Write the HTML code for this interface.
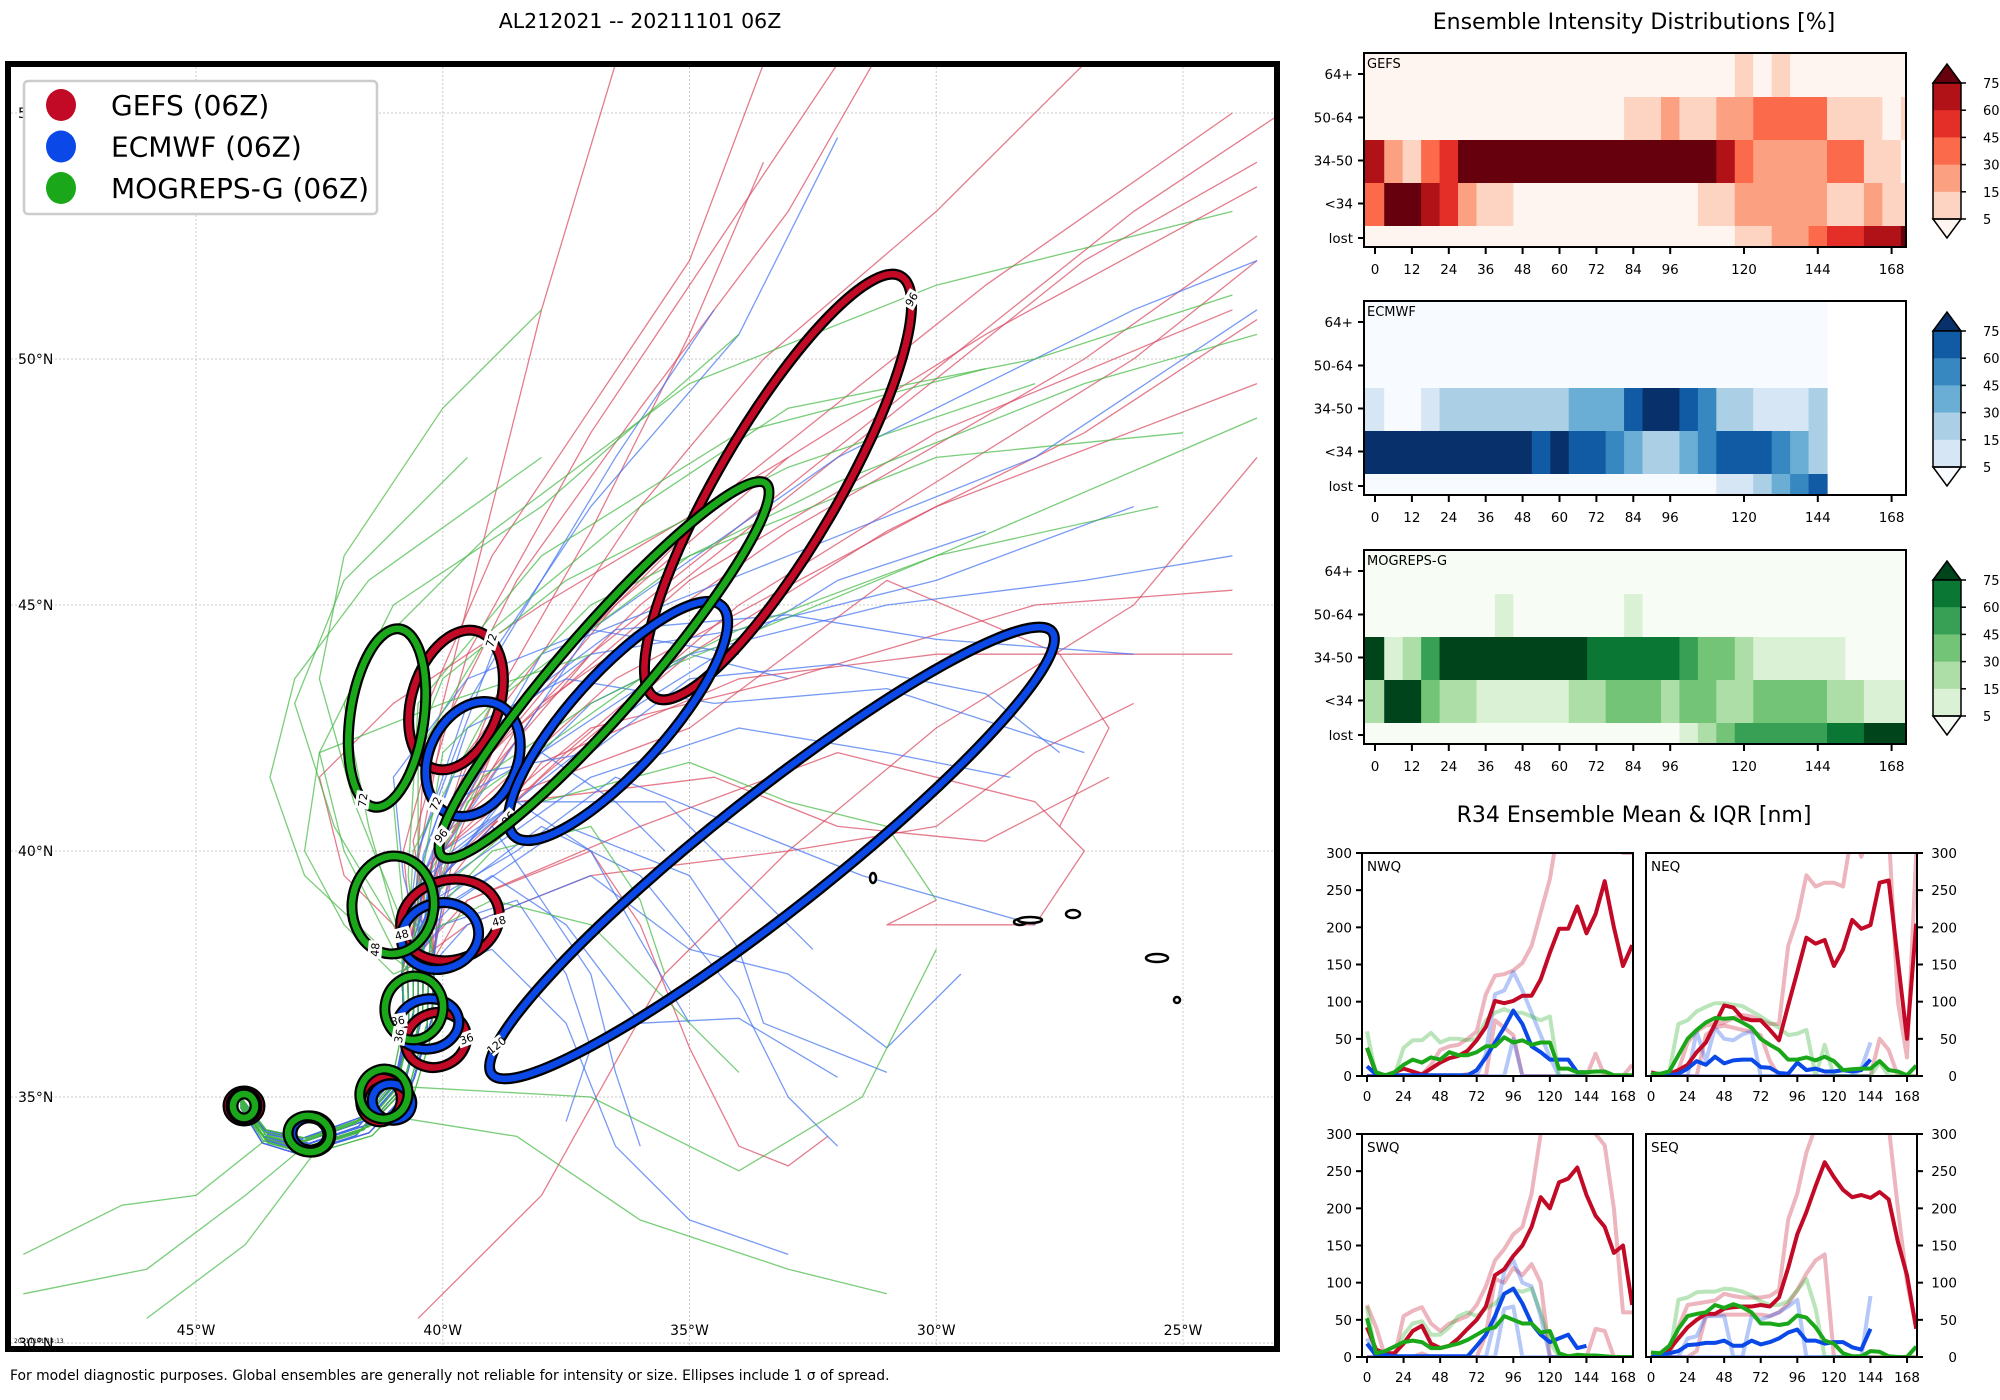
<!DOCTYPE html>
<html><head><meta charset="utf-8">
<style>
html,body{margin:0;padding:0;background:#fff;}
svg{display:block;font-family:"DejaVu Sans","Liberation Sans",sans-serif;}
</style></head>
<body>
<svg id="root" xmlns="http://www.w3.org/2000/svg" width="2000" height="1400" viewBox="0 0 2000 1400">
<defs>
<clipPath id="mapclip"><rect x="11" y="67" width="1263" height="1279"/></clipPath>
</defs>
<rect x="0" y="0" width="2000" height="1400" fill="#fff"/>
<text x="640" y="28" font-size="20.5" text-anchor="middle">AL212021 -- 20211101 06Z</text>
<text x="1634" y="29" font-size="22" text-anchor="middle">Ensemble Intensity Distributions [%]</text>
<text x="1634" y="822" font-size="22" text-anchor="middle">R34 Ensemble Mean &amp; IQR [nm]</text>
<text x="10" y="1380" font-size="13.9">For model diagnostic purposes. Global ensembles are generally not reliable for intensity or size. Ellipses include 1 σ of spread.</text>
<g id="map"></g>
<g id="heat"></g>
<g id="r34"></g>
</svg>
<script>
const NS='http://www.w3.org/2000/svg';
function mk(tag,attrs,parent){const e=document.createElementNS(NS,tag);for(const k in attrs)e.setAttribute(k,attrs[k]);parent.appendChild(e);return e;}

/* ---------------- MAP DATA ---------------- */
const trackStart=[[-44.1,34.9],[-43.6,34.2],[-42.8,34.0],[-41.6,34.4],[-40.8,35.3],[-40.5,36.5],[-40.5,37.8]];
const gefsTracks=[
[[-40.3,39.5],[-39.5,41.5],[-37.5,44],[-34,47.5],[-29,51.5],[-24,55]],
[[-40,39.5],[-39,42],[-36,45],[-31,49],[-26,53],[-23,55]],
[[-40.5,39.8],[-40,42.5],[-38.5,45.5],[-36,49],[-33,53],[-31,56.5]],
[[-40,40],[-38.5,42.5],[-35,45.5],[-30,48.5],[-24,51]],
[[-40.2,40],[-39,43],[-37,46.5],[-35,50.5],[-33.5,54]],
[[-39.8,39.5],[-38,41.8],[-34,43.5],[-30,44],[-24,44]],
[[-40,40],[-37,42.5],[-33,43.5],[-28,45],[-24,45.3]],
[[-39.5,39],[-36,40.5],[-32,42],[-28,41],[-27,40],[-28,38.5],[-31,38.5],[-30,39]],
[[-40.5,39],[-38.5,41],[-34.5,41.5],[-32,40.5],[-29,40.2],[-26.5,41.5]],
[[-40.8,40],[-40,43],[-39,47],[-38,51],[-36.5,56]],
[[-40,40.5],[-37,44],[-32,48],[-27,52],[-23.5,54]],
[[-40,40.3],[-36.5,43.5],[-30,47],[-23.5,49.5]],
[[-39.5,39],[-37,40],[-36,38.5],[-35,36],[-34,34],[-33,33.6],[-32.2,34.2]],
[[-40.6,40.2],[-39.5,44],[-37,48.5],[-34,53],[-32,56]],
[[-40.2,39.8],[-38,43],[-33,46.5],[-27,50],[-23.5,52.5]],
[[-40.4,39.6],[-39,41],[-35,42.5],[-31,45.5],[-27.5,44],[-26.5,42.5],[-27.5,40.5]],
[[-40.2,39.8],[-39,42],[-36.5,45],[-33,48],[-29,50.5],[-23.5,53.5]],
[[-40,39.5],[-38,41.5],[-35,44],[-31,46.5],[-27,48.5],[-23.5,50.8]],
[[-40.5,40],[-40.3,43],[-39,46],[-37,49],[-35,52],[-33.5,56]],
[[-39.8,39.8],[-37.5,42],[-34,45],[-30,47.5],[-26,50],[-23.5,52]],
[[-40.3,39.5],[-39.5,42],[-38,44],[-36,47],[-33.5,50],[-30,53],[-27,56]],
[[-39.5,38.5],[-37,39.5],[-33,40],[-30,40.5],[-28,42],[-26,43]],
[[-41,38.5],[-42,39.5],[-42.5,41.5],[-41,43],[-38,45],[-33,48]]
];
const gefsLong=[[-40.5,30.5],[-38,33],[-35.5,37.5],[-33,40],[-30,42.5],[-26,45],[-23.5,48]];
const ecmwfTracks=[
[[-40,39.5],[-38,42],[-35,44],[-31,45],[-27,45.5],[-24,46]],
[[-40.2,39.8],[-38.5,43],[-36.5,44.5],[-33,44.8],[-30,44.3],[-26,44]],
[[-39.8,39.5],[-37,41.5],[-34,42.5],[-31,42],[-28.5,41.5]],
[[-39.5,38.5],[-37,39.5],[-35,38],[-33,37.5],[-31,36],[-29.5,37.5]],
[[-40,39],[-38,40.5],[-36,39.5],[-34,37],[-33,35],[-32,34]],
[[-40.5,40],[-39,44],[-37,47],[-34,50.5],[-32,54.5]],
[[-40,40],[-37,44.5],[-32,48],[-26,51],[-23.5,52]],
[[-40,39.5],[-39,40.5],[-38,39],[-37,37.5],[-36.5,35.5],[-36,34]],
[[-39.8,40],[-36,43],[-32,45.5],[-29,46.5]],
[[-40.3,39.5],[-38.5,41],[-35.5,41],[-33.5,39],[-32.5,38]],
[[-39,38],[-37.5,36.5],[-36.5,34],[-35,32.5],[-33,31.8]],
[[-40,40.5],[-38,44],[-33,46],[-28,48],[-23.5,51]],
[[-40.5,39.5],[-39.5,42.5],[-37.5,43.5],[-34.5,43],[-31,43.3],[-27,42]],
[[-40.2,39],[-38.5,40],[-36.5,41.5],[-34,40.5],[-31.5,39.5],[-28,38.5]],
[[-40.1,38.8],[-39,39.5],[-37.5,38.5],[-36,36.5],[-34,36.6],[-32,35.4]],
[[-40.4,39.9],[-39.8,41.5],[-37,42],[-35,43.5],[-32,43.8],[-29,43.2],[-27.5,42]],
[[-40.5,38.5],[-40,40],[-38.5,41],[-37,40],[-36,38.2],[-35,36.5]],
[[-40.2,39.2],[-38.5,41.5],[-37,43],[-35,44],[-33,43.5]],
[[-40.6,39],[-39.8,41],[-38,42],[-36.5,41],[-35.5,40]],
[[-40,38.5],[-38.5,39],[-37.5,37.5],[-37,36],[-37.5,34.5]],
[[-40.3,39.7],[-39,42.5],[-37,44],[-34,44.5],[-30,45.5],[-26,47]],
[[-39.7,39],[-37.5,40.5],[-35,39.5],[-34,38],[-33.5,36.5],[-31,35.5]],
[[-40.5,40],[-39.5,43],[-38,45.5],[-36.5,48],[-34.5,51]],
[[-40.8,39.5],[-41,41.5],[-39.5,43.5],[-37,44.5],[-34,44]]
];
const mogrepsTracks=[
[[-40.8,38],[-41.5,40.5],[-42,43],[-41,45],[-38,47],[-34,50.5]],
[[-41,38],[-42,40],[-42.5,42],[-41.5,44],[-39,46.5],[-35,49.5],[-30,51.5],[-24,53]],
[[-40.5,39],[-40,42],[-37,45],[-32,47.5],[-27,49.5],[-23.5,50.5]],
[[-40.5,39],[-40.5,42],[-39,44.5],[-36,47],[-33,49],[-28,50],[-24,51.3]],
[[-40.6,40],[-39,43],[-35,46],[-30,48],[-25,48.5]],
[[-40.8,38.5],[-41.8,41],[-42.5,43.5],[-42,46],[-40,49],[-38,51]],
[[-40.3,39],[-38,41],[-35,41.8],[-33,41],[-31,40.5],[-30,39]],
[[-40.2,39],[-39.5,41],[-36,43.5],[-30,46],[-25.5,47]],
[[-41,38.5],[-42.2,40.5],[-43,43],[-42,45.5],[-39.5,48]],
[[-40.7,39.5],[-40.5,43],[-38,46],[-34,48.5],[-29,49.8]],
[[-40.4,38.5],[-39,40],[-37,40.5],[-36,39],[-35.5,37.5]],
[[-41.2,38],[-42.8,39.5],[-43.5,41.5],[-43,43.5],[-41.5,45.5],[-38,48]],
[[-40.8,38.8],[-41,41],[-40,43.5],[-37.5,45.5],[-33,47.8],[-28,49.5]],
[[-40.4,39.3],[-39.2,41.5],[-37,43],[-34,44.5],[-30,46],[-23.5,48.8]],
[[-41,37.5],[-42,38.5],[-42.8,40],[-42.5,42],[-40,43],[-37,44]],
[[-40.6,38.2],[-39,39],[-37,38.5],[-35.5,37],[-34,35.5]]
];
const mogrepsSouth=[
[[-42.8,34.0],[-44,33],[-46,31.5],[-48.5,31]],
[[-43.5,34.2],[-45,33],[-46.5,32.8],[-48.5,31.8]],
[[-42.5,34],[-44,32],[-46,30.5]],
[[-41,34.6],[-38.5,34.2],[-36,32.5],[-33,31.5],[-31,31]],
[[-40.6,35.2],[-37,35],[-34,33.5],[-31.5,35],[-30,38]]
];
/* ellipses: [cx, cy, semi-major, semi-minor, rotation deg, model, label] in pixel units */
const ellipses=[
[244,1106,16,15,0,'red','0'],[244,1106,13,13,0,'blue',''],[244,1106,11,12,0,'green','0'],
[311,1134,18,20,-80,'red','12'],[310,1134,16,18,-80,'blue','12'],[309,1134,18,21,-80,'green','12'],
[381,1100,22,20,-70,'red','24'],[392,1102,18,20,-70,'blue','24'],[384,1094,25,24,-70,'green','24'],
[436,1040,31,27,-20,'red','36'],[428,1024,31,25,-10,'blue','36'],[414,1008,32,29,-80,'green','36'],
[450,920,50,40,-15,'red','48'],[440,936,39,33,-15,'blue','48'],[393,905,49,41,-85,'green','48'],
[456,700,72,44,-72,'red','72'],[473,759,60,44,-65,'blue','72'],[387,718,90,37,-82,'green','72'],
[778,487,244,60,-59.7,'red','96'],[618,721,155,48,-48,'blue','96'],[604,670,247,42,-49,'green','96'],
[772,853,357,58,-38.3,'blue','120']
];
const islands=[[873,878,3,5],[1020,922,6,3],[1030,920,12,3],[1073,914,7,4],[1157,958,11,4],[1177,1000,3,3]];
const modelColors={red:'#c20a26',blue:'#0a48e8',green:'#1aa81a'};
const thinColors={red:'#d8455c',blue:'#3d6ff0',green:'#42b842'};

function mx(lon){return 196+(lon+45)*49.35;}
function my(lat){return 851-(lat-40)*49.2;}

const map=document.getElementById('map');
const lonTicks=[-45,-40,-35,-30,-25];
const latTicks=[30,35,40,45,50,55];
lonTicks.forEach(l=>{
  const g=mk('line',{x1:mx(l),x2:mx(l),y1:67,y2:1346,stroke:'#c8c8c8','stroke-width':1,'stroke-dasharray':'2,2'},map);
  
  
  const t=mk('text',{x:mx(l),y:1335,'font-size':14,'text-anchor':'middle'},map);
  t.textContent=(-l)+'°W';
  
  
});
latTicks.forEach(l=>{
  const g=mk('line',{x1:11,x2:1274,y1:my(l),y2:my(l),stroke:'#c8c8c8','stroke-width':1,'stroke-dasharray':'2,2'},map);
  
  
  const t=mk('text',{x:18,y:my(l)+5,'font-size':14},map);
  t.textContent=l+'°N';
  
  
});
const tg=mk('g',{'clip-path':'url(#mapclip)'},map);


function track(pts,color){
  const d=pts.map((p,i)=>(i?'L':'M')+mx(p[0]).toFixed(1)+','+my(p[1]).toFixed(1)).join('');
  const p=mk('path',{d:d,fill:'none',stroke:thinColors[color],'stroke-width':1.3,'stroke-opacity':0.7,'stroke-linejoin':'round'},tg);
  
  
}
function jitter(i){return [(i%7-3)*0.11,((i*3)%7-3)*0.09];}
function spreadStart(j,sgn){const n=trackStart.length;return trackStart.map((p,k)=>{const f=k/(n-1);return [p[0]+j[0]*f*sgn,p[1]+j[1]*(0.4+0.6*f)];});}
gefsTracks.forEach((t,i)=>track(spreadStart(jitter(i),1).concat(t),'red'));
track(gefsLong,'red');
ecmwfTracks.forEach((t,i)=>track(spreadStart(jitter(i+2),1).concat(t),'blue'));
mogrepsTracks.forEach((t,i)=>track(spreadStart(jitter(i+1),-1).concat(t),'green'));
mogrepsSouth.forEach(t=>track(t,'green'));
islands.forEach(s=>{
  const e=mk('ellipse',{cx:s[0],cy:s[1],rx:s[2],ry:s[3],fill:'#fff',stroke:'#000','stroke-width':2.5},tg);
  
  
});
ellipses.forEach(el=>{
  const [cx,cy,a,b,rot,m,lab]=el;
  const g=mk('g',{transform:`translate(${cx},${cy}) rotate(${rot})`},tg);
  
  
  mk('ellipse',{cx:0,cy:0,rx:a,ry:b,fill:'none',stroke:'#000','stroke-width':11},g);
  mk('ellipse',{cx:0,cy:0,rx:a,ry:b,fill:'none',stroke:modelColors[m],'stroke-width':6.5},g);
  if(lab&&a>25){
    const ang=(m==='green'?200:m==='blue'?200:20)*Math.PI/180;
    const lx=a*Math.cos(ang), ly=b*Math.sin(ang);
    const r=mk('rect',{x:lx-9,y:ly-7,width:18,height:14,fill:'#fff'},g);
    
    
    const t=mk('text',{x:lx,y:ly+4,'font-size':11,'text-anchor':'middle'},g);
    t.textContent=lab;
    
    
  }
});
const fr=mk('rect',{x:8,y:64,width:1269,height:1285,fill:'none',stroke:'#000','stroke-width':6},map);


const stamp=mk('text',{x:14,y:1343,'font-size':6},map);
stamp.textContent='20211101 14:13';


const lg=mk('g',{},map);


const lb=mk('rect',{x:24,y:81,width:353,height:133,rx:4,fill:'#fff',stroke:'#ccc','stroke-width':2.5},lg);


const legendLabels=['GEFS (06Z)','ECMWF (06Z)','MOGREPS-G (06Z)'];
const legendColors=['#c20a26','#0a48e8','#1aa81a'];
legendLabels.forEach((s,i)=>{
  const y=105+i*41.5;
  const c=mk('ellipse',{cx:61,cy:y,rx:15,ry:16,fill:legendColors[i]},lg);
  
  
  const t=mk('text',{x:111,y:y+10,'font-size':28},lg);
  t.textContent=s;
  
  
});

/* ---------------- HEATMAP DATA ---------------- */
const heatHours=[0,6,12,18,24,30,36,42,48,54,60,66,72,78,84,90,96,102,108,114,120,126,132,138,144,150,156,162,168,174];
const heatRows=['64+','50-64','34-50','<34','lost'];
const heatTickHours=[0,12,24,36,48,60,72,84,96,120,144,168];
const cbLevels=[5,15,30,45,60,75];
const gefs64=[2,2,2,2,2,2,2,2,2,2,2,2,2,2,2,2,2,2,2,2,10,2,10,2,2,2,2,2,2,2];
const gefs50=[2,2,2,2,2,2,2,2,2,2,2,2,2,2,10,10,22,10,10,22,22,38,38,38,38,10,10,10,2,10];
const gefs34=[68,22,10,38,52,85,85,85,85,85,85,85,85,85,85,85,85,85,85,68,38,22,22,22,22,38,38,10,10,2];
const gefsLt=[38,85,85,68,52,22,10,10,2,2,2,2,2,2,2,2,2,2,10,10,22,22,22,22,22,10,10,22,10,10];
const gefsLost=[2,2,2,2,2,2,2,2,2,2,2,2,2,2,2,2,2,2,2,2,10,10,22,22,38,52,52,68,68,85];
const ecm64=[2,2,2,2,2,2,2,2,2,2,2,2,2,2,2,2,2,2,2,2,2,2,2,2,2];
const ecm50=[2,2,2,2,2,2,2,2,2,2,2,2,2,2,2,2,2,2,2,2,2,2,2,2,2];
const ecm34=[10,2,2,10,22,22,22,22,22,22,22,38,38,38,68,85,85,68,52,22,22,10,10,10,22];
const ecmLt=[85,85,85,85,85,85,85,85,85,68,85,68,68,52,38,22,22,38,52,68,68,68,52,38,22];
const ecmLost=[2,2,2,2,2,2,2,2,2,2,2,2,2,2,2,2,2,2,2,10,10,22,38,52,68];
const mog64=[2,2,2,2,2,2,2,2,2,2,2,2,2,2,2,2,2,2,2,2,2,2,2,2,2,2,2,2,2,2];
const mog50=[2,2,2,2,2,2,2,10,2,2,2,2,2,2,10,2,2,2,2,2,2,2,2,2,2,2,2,2,2,2];
const mog34=[85,10,22,52,85,85,85,85,85,85,85,85,68,68,68,68,68,52,38,38,22,10,10,10,10,10,2,2,2,2];
const mogLt=[22,85,85,38,22,22,10,10,10,10,10,22,22,38,38,38,22,38,38,22,22,38,38,38,38,22,22,10,10,10];
const mogLost=[2,2,2,2,2,2,2,2,2,2,2,2,2,2,2,2,2,10,22,38,52,52,52,52,52,68,68,85,85,85];
const reds=['#fff5f0','#fdd4c2','#fca082','#fb6b4b','#e32f27','#b11218','#67000d'];
const blues=['#f7fbff','#d6e6f4','#abd0e6','#6aaed6','#3787c0','#105ba4','#08306b'];
const greens=['#f7fcf5','#dbf1d6','#aedea7','#73c476','#37a055','#0b7734','#00441b'];
function lvl(v){let k=0;cbLevels.forEach(c=>{if(v>=c)k++;});return k;}

const heat=document.getElementById('heat');
const HL=1364,HR=1906;
function hx(h){return 1375+h*3.075;}
const rowEdges=[0,44,87,130,173,194];
function heatmap(top,name,label,rows,pal){
  const g=mk('g',{},heat);
  
  
  const bg=mk('rect',{x:HL,y:top,width:HR-HL,height:194,fill:'#fff'},g);
  
  
  rows.forEach((arr,r)=>{
    arr.forEach((v,i)=>{
      const h=heatHours[i];
      const x0=Math.max(HL,i===0?HL:hx(h-3)), x1=Math.min(HR,hx(h+3));
      if(x1<=x0)return;
      const c=mk('rect',{x:x0,y:top+rowEdges[r],width:x1-x0+0.6,height:rowEdges[r+1]-rowEdges[r]+0.6,fill:pal[lvl(v)]},g);
      
      
    });
  });
  const fr=mk('rect',{x:HL,y:top,width:HR-HL,height:194,fill:'none',stroke:'#000','stroke-width':2},g);
  
  
  const lt=mk('text',{x:HL+3,y:top+15,'font-size':13},g);
  lt.textContent=label;
  
  
  heatRows.forEach((s,r)=>{
    const yc=top+(r<4?(rowEdges[r]+rowEdges[r+1])/2-1:185);
    mk('line',{x1:HL,x2:HL-6,y1:yc,y2:yc,stroke:'#000','stroke-width':2},g);
    const t=mk('text',{x:HL-11,y:yc+5,'font-size':13.5,'text-anchor':'end'},g);
    t.textContent=s;
    
    
  });
  heatTickHours.forEach(h=>{
    mk('line',{x1:hx(h),x2:hx(h),y1:top+194,y2:top+201,stroke:'#000','stroke-width':2},g);
    const t=mk('text',{x:hx(h),y:top+221,'font-size':13.5,'text-anchor':'middle'},g);
    t.textContent=h;
    
    
  });
  const cb=mk('g',{},g);
  
  
  const cx0=1933,cx1=1961,cyTop=top+30,band=27.2,cyBot=cyTop+band*5;
  mk('polygon',{points:`${cx0},${cyTop} ${(cx0+cx1)/2},${top+11} ${cx1},${cyTop}`,fill:pal[6],stroke:'#000','stroke-width':1.5},cb);
  for(let k=0;k<5;k++){
    mk('rect',{x:cx0,y:cyTop+k*band,width:cx1-cx0,height:band+0.5,fill:pal[5-k]},cb);
  }
  mk('polygon',{points:`${cx0},${cyBot} ${(cx0+cx1)/2},${top+185} ${cx1},${cyBot}`,fill:pal[0],stroke:'#000','stroke-width':1.5},cb);
  mk('rect',{x:cx0,y:cyTop,width:cx1-cx0,height:band*5,fill:'none',stroke:'#000','stroke-width':1.5},cb);
  cbLevels.slice().reverse().forEach((v,k)=>{
    const y=cyTop+k*band;
    mk('line',{x1:cx1,x2:cx1+5,y1:y,y2:y,stroke:'#000','stroke-width':1.5},cb);
    const t=mk('text',{x:cx1+22,y:y+5,'font-size':13},cb);
    t.textContent=v;
    
    
  });
}
heatmap(53,'gefs','GEFS',[gefs64,gefs50,gefs34,gefsLt,gefsLost],reds);
heatmap(301,'ecmwf','ECMWF',[ecm64,ecm50,ecm34,ecmLt,ecmLost],blues);
heatmap(550,'mogreps','MOGREPS-G',[mog64,mog50,mog34,mogLt,mogLost],greens);

/* ---------------- R34 DATA ---------------- */
const r34Hours=heatHours;
const r34YTicks=[0,50,100,150,200,250,300];
const r34XTicks=[0,24,48,72,96,120,144,168];
const nwqRed=[38,3,0,5,10,6,2,10,18,24,27,34,48,66,101,98,101,108,108,130,166,198,198,228,192,218,262,200,148,176];
const nwqBlue=[13,2,1,1,1,1,1,1,1,1,1,1,8,25,45,65,88,70,40,32,22,22,22,5,5];
const nwqGreen=[38,5,1,5,15,22,18,25,22,32,28,28,32,40,40,52,45,48,42,45,45,10,10,5,5,6,6,1,1,1];
const nwqRedUp=[0,0,0,0,0,0,2,15,35,40,42,50,60,110,135,137,142,152,175,220,265,340,400,400,400,400,400,400,300,300];
const nwqRedLo=[0,0,0,0,0,0,0,0,0,0,0,3,0,0,75,65,55,0,0,0,0,0,0,0,0,30,0,0,0,15];
const nwqBlueUp=[0,0,0,0,0,0,0,0,0,0,0,0,0,30,110,115,140,115,85,55,25,0,0,0,0];
const nwqBlueLo=[0,0,0,0,0,0,0,0,0,0,0,0,0,0,0,0,50,0,0,0,0,0,0,0,0];
const nwqGreenUp=[60,0,0,0,38,48,48,58,45,50,50,48,50,75,85,90,85,85,80,75,80,0,0,0,0,0,0,0,0,0];
const neqRed=[5,2,3,8,15,32,45,70,95,92,78,75,75,62,48,95,140,186,178,183,148,170,210,198,203,260,263,155,50,205];
const neqBlue=[1,1,1,3,10,20,15,26,17,21,22,22,12,11,4,3,18,8,10,6,6,8,6,8,22];
const neqGreen=[3,3,6,28,50,62,72,78,77,78,72,65,50,42,35,22,22,25,21,26,20,8,9,10,10,20,8,6,1,14];
const neqRedUp=[5,0,0,8,45,60,68,70,72,78,82,80,75,70,70,175,212,270,255,260,260,255,330,295,330,330,330,100,25,300];
const neqRedLo=[0,0,0,0,0,0,55,65,68,65,62,60,55,20,0,0,0,0,0,0,0,0,0,0,0,50,35,0,0,0];
const neqBlueUp=[0,0,0,0,0,60,20,65,50,48,56,60,0,0,0,0,0,0,0,0,0,0,0,10,45];
const neqBlueLo=[0,0,0,0,0,0,0,0,0,0,0,0,0,0,0,0,0,0,0,0,0,0,0,0,0];
const neqGreenUp=[3,3,6,70,75,87,93,98,98,96,94,87,80,72,65,55,57,62,0,42,0,0,0,0,0,18,0,0,0,0];
const swqRed=[40,10,5,5,18,35,42,18,12,15,25,38,50,68,110,118,136,150,175,215,200,235,240,255,218,190,175,140,150,70];
const swqBlue=[18,2,3,1,1,1,1,1,1,1,1,1,15,30,55,85,92,72,45,30,20,25,30,12,15];
const swqGreen=[52,5,8,14,20,22,20,12,12,15,18,23,30,37,40,55,50,45,45,33,35,5,1,3,2,2,1,0,0,0];
const swqRedUp=[70,40,0,0,55,62,67,45,35,45,50,55,70,95,130,145,165,175,220,300,400,400,400,400,400,300,285,200,60,60];
const swqRedLo=[0,0,0,0,0,0,5,0,0,0,0,0,0,30,105,100,120,110,125,100,0,0,0,0,0,38,35,0,0,0];
const swqBlueUp=[25,0,0,0,0,0,0,0,0,0,0,0,0,0,50,115,130,100,95,55,0,0,0,0,0];
const swqBlueLo=[0,0,0,0,0,0,0,0,0,0,0,0,0,0,0,65,68,0,0,0,0,0,0,0,0];
const swqGreenUp=[68,0,0,0,30,45,48,30,30,40,55,60,55,65,72,85,90,88,92,60,20,0,0,0,0,0,0,0,0,0];
const seqRed=[0,2,10,25,40,50,58,58,65,67,68,68,70,68,80,120,165,195,230,262,242,225,215,218,214,222,212,155,110,38];
const seqBlue=[0,2,5,8,16,17,19,19,22,15,15,22,17,20,25,33,37,22,22,18,20,20,13,10,38];
const seqGreen=[6,5,15,38,55,58,60,70,66,71,67,60,45,45,43,45,56,53,40,22,18,5,1,1,8,7,1,0,0,14];
const seqRedUp=[0,0,0,40,70,72,74,76,85,82,80,80,80,82,90,185,220,275,310,400,400,400,400,400,400,400,310,200,100,40];
const seqRedLo=[0,0,0,0,0,8,55,57,57,57,57,57,57,55,60,72,90,112,130,138,0,0,0,0,0,0,0,0,0,0];
const seqBlueUp=[0,0,0,0,25,28,55,55,55,0,0,55,50,55,60,68,77,0,0,0,0,0,0,0,82];
const seqBlueLo=[0,0,0,0,0,0,0,0,0,0,0,0,0,0,0,0,0,0,0,0,0,0,0,0,0];
const seqGreenUp=[0,0,0,77,80,87,88,88,92,91,88,83,75,70,70,75,90,105,65,0,0,0,0,0,0,0,0,0,0,0];

const r34=document.getElementById('r34');
let clipN=0;
function r34Panel(L,T,label,rightAxis,series){
  const W=271,H=223;
  const x=h=>L+5+h*1.524;
  const y=v=>T+H-v*(H/300);
  const g=mk('g',{},r34);
  
  
  const id='c'+(clipN++);
  const cp=mk('clipPath',{id:id},g);
  mk('rect',{x:L,y:T,width:W,height:H},cp);
  const pg=mk('g',{'clip-path':`url(#${id})`},g);
  series.forEach(s=>{
    const d=s.vals.map((v,i)=>(i?'L':'M')+x(r34Hours[i]).toFixed(1)+','+y(v).toFixed(1)).join('');
    const p=mk('path',{d:d,fill:'none',stroke:s.color,'stroke-width':4,'stroke-opacity':s.op,'stroke-linejoin':'round'},pg);
    
    
  });
  const fr=mk('rect',{x:L,y:T,width:W,height:H,fill:'none',stroke:'#000','stroke-width':2},g);
  
  
  const lt=mk('text',{x:L+5,y:T+18,'font-size':13.5},g);
  lt.textContent=label;
  
  
  r34XTicks.forEach(h=>{
    mk('line',{x1:x(h),x2:x(h),y1:T+H,y2:T+H+6,stroke:'#000','stroke-width':2},g);
    const t=mk('text',{x:x(h),y:T+H+25,'font-size':13.5,'text-anchor':'middle'},g);
    t.textContent=h;
    
    
  });
  r34YTicks.forEach(v=>{
    const xx=rightAxis?L+W:L;
    mk('line',{x1:xx,x2:rightAxis?xx+6:xx-6,y1:y(v),y2:y(v),stroke:'#000','stroke-width':2},g);
    const t=mk('text',{x:rightAxis?xx+40:xx-10,y:y(v)+5,'font-size':13.5,'text-anchor':'end'},g);
    t.textContent=v;
    
    
  });
}
function ser(rU,rL,bU,bL,gU,r,b,gr){
  return [
    {vals:rU,color:'#c20a26',op:0.3,name:'gefs-iqr-upper'},
    {vals:rL,color:'#c20a26',op:0.3,name:'gefs-iqr-lower'},
    {vals:bU,color:'#0a48e8',op:0.3,name:'ecmwf-iqr-upper'},
    {vals:bL,color:'#0a48e8',op:0.3,name:'ecmwf-iqr-lower'},
    {vals:gU,color:'#1aa81a',op:0.3,name:'mogreps-iqr-upper'},
    {vals:r,color:'#c20a26',op:1,name:'gefs-mean-line'},
    {vals:b,color:'#0a48e8',op:1,name:'ecmwf-mean-line'},
    {vals:gr,color:'#1aa81a',op:1,name:'mogreps-mean-line'}
  ];
}
r34Panel(1362,853,'NWQ',false,ser(nwqRedUp,nwqRedLo,nwqBlueUp,nwqBlueLo,nwqGreenUp,nwqRed,nwqBlue,nwqGreen));
r34Panel(1646,853,'NEQ',true,ser(neqRedUp,neqRedLo,neqBlueUp,neqBlueLo,neqGreenUp,neqRed,neqBlue,neqGreen));
r34Panel(1362,1134,'SWQ',false,ser(swqRedUp,swqRedLo,swqBlueUp,swqBlueLo,swqGreenUp,swqRed,swqBlue,swqGreen));
r34Panel(1646,1134,'SEQ',true,ser(seqRedUp,seqRedLo,seqBlueUp,seqBlueLo,seqGreenUp,seqRed,seqBlue,seqGreen));
</script>
</body></html>
